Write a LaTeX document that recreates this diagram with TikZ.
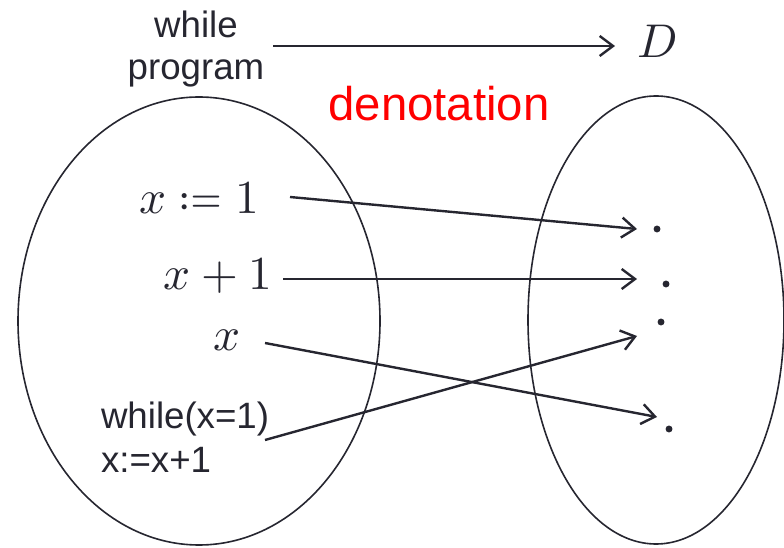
\documentclass[tikz,border=0pt]{standalone}
\usepackage{mathtools}
\usepackage{fontspec}
\usepackage{unicode-math}
\setmainfont{Liberation Sans}
\setmathfont{Latin Modern Math}
\usetikzlibrary{arrows.meta}
\definecolor{ink}{RGB}{38,38,48}
\definecolor{denred}{RGB}{255,0,0}
\begin{document}
\begin{tikzpicture}[x=0.75pt,y=-0.75pt,
  every node/.style={inner sep=0pt, outer sep=0pt, text=ink},
  lbl/.style={font=\fontsize{27.5pt}{31.5pt}\selectfont},
  mth/.style={font=\fontsize{35.5pt}{40pt}\selectfont},
  pt/.style={circle, fill=ink, inner sep=0pt, minimum size=5.2pt},
  conn/.style={draw=ink, line width=1.8pt, -{Straight Barb[length=10pt,width=15pt,line width=1.8pt]}},
  blob/.style={draw=ink, line width=1.2pt}]
\useasboundingbox (0,0) rectangle (784,548);
% ellipses
\draw[blob] (199,321) ellipse [x radius=181, y radius=224];
\draw[blob] (656,320) ellipse [x radius=128, y radius=224];
% top labels
\node[lbl, anchor=base] (wp1) at (196,38) {while};
\node[lbl, anchor=base] (wp2) at (196,80) {program};
\node[mth, anchor=base] (D) at (657,58) {$D$};
\node[anchor=base, text=denred, font=\fontsize{35.5pt}{40pt}\selectfont] (den) at (439,121) {denotation};
\coordinate (ts) at (273,46);
\coordinate (te) at (615,46);
\draw[conn] (ts) -- (te);
% left items
\node[mth, anchor=base] (t1) at (199,214) {$x \coloneqq 1$};
\node[mth, anchor=base] (t2) at (218,290) {$x+1$};
\node[mth, anchor=base] (t3) at (227,350) {$x$};
\node[lbl, anchor=base west] (t4a) at (101,428) {while(x=1)};
\node[lbl, anchor=base west] (t4b) at (101,472) {x:=x+1};
% dots
\node[pt] (d1) at (657,229) {};
\node[pt] (d2) at (666,284) {};
\node[pt] (d3) at (661,322) {};
\node[pt] (d4) at (669,429) {};
% arrow endpoints
\coordinate (s1) at (290,197);
\coordinate (e1) at (637,229);
\coordinate (s2) at (283,279);
\coordinate (e2) at (637,279);
\coordinate (s3) at (265,343);
\coordinate (e3) at (657,417);
\coordinate (s4) at (265,440);
\coordinate (e4) at (637,336);
\draw[conn] (s1) -- (e1);
\draw[conn] (s2) -- (e2);
\draw[conn] (s3) -- (e3);
\draw[conn] (s4) -- (e4);
\end{tikzpicture}
\end{document}
